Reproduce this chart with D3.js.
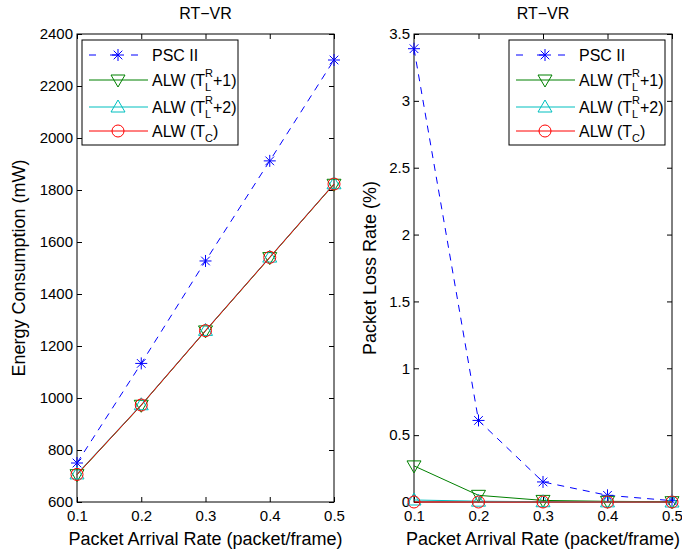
<!DOCTYPE html>
<html>
<head>
<meta charset="utf-8">
<script src="https://cdn.jsdelivr.net/npm/d3@7"></script>
<style>
  body { margin: 0; background: #fff; }
  text { font-family: "Liberation Sans", Arial, sans-serif; fill: #000; }
</style>
</head>
<body>
<div id="chart"></div>
<script>
// Data
const rates = [0.1, 0.2, 0.3, 0.4, 0.5];
const energyPSC = [750, 1133, 1527, 1912, 2300];
const energyT1 = [705, 972, 1258, 1540, 1822];
const energyT2 = [708, 974, 1260, 1542, 1824];
const energyTC = [706, 973, 1259, 1541, 1823];
const lossPSC = [3.39, 0.61, 0.15, 0.05, 0.01];
const lossT1 = [0.27, 0.05, 0.012, 0.005, 0.002];
const lossT2 = [0.015, 0.006, 0.002, 0.001, 0.0];
const lossTC = [0, 0, 0, 0, 0];
const energyTicks = [600, 800, 1000, 1200, 1400, 1600, 1800, 2000, 2200, 2400];
const lossTicks = [0, 0.5, 1, 1.5, 2, 2.5, 3, 3.5];
const xTicks = [0.1, 0.2, 0.3, 0.4, 0.5];

const W = 682, H = 552;
const svg = d3.select("#chart").append("svg").attr("width", W).attr("height", H);

const series = [
  { key: "psc", color: "#0000ff", dash: "7,6", marker: "star" },
  { key: "t1", color: "#008000", dash: null, marker: "tridown" },
  { key: "t2", color: "#00bfbf", dash: null, marker: "triup" },
  { key: "tc", color: "#ff0000", dash: null, marker: "circle" }
];

function drawMarker(g, type, x, y, color) {
  const s = 6;
  if (type === "star") {
    const d = s * 0.72;
    g.append("path")
      .attr("d", `M${x - s},${y}L${x + s},${y}M${x},${y - s}L${x},${y + s}M${x - d},${y - d}L${x + d},${y + d}M${x - d},${y + d}L${x + d},${y - d}`)
      .attr("stroke", color).attr("stroke-width", 1).attr("fill", "none");
  } else if (type === "tridown") {
    g.append("path")
      .attr("d", `M${x - 7},${y - 5}L${x + 7},${y - 5}L${x},${y + 7}Z`)
      .attr("stroke", color).attr("fill", "none");
  } else if (type === "triup") {
    g.append("path")
      .attr("d", `M${x - 7},${y + 5}L${x + 7},${y + 5}L${x},${y - 7}Z`)
      .attr("stroke", color).attr("fill", "none");
  } else {
    g.append("circle").attr("cx", x).attr("cy", y).attr("r", 6)
      .attr("stroke", color).attr("fill", "none");
  }
}

function panel(opts) {
  const { left, right, top, bottom, yDomain, yTickVals, yFmt, values, title, yLabel, labelX, legendX } = opts;
  const x = d3.scaleLinear().domain([0.1, 0.5]).range([left, right]);
  const y = d3.scaleLinear().domain(yDomain).range([bottom, top]);
  const g = svg.append("g");

  // axes with inward ticks, mirrored on top/right
  const ax = g.append("g").attr("transform", `translate(0,${bottom})`)
    .call(d3.axisBottom(x).tickValues(xTicks).tickSizeInner(-5).tickSizeOuter(0).tickPadding(8).tickFormat(d3.format(".1f")));
  const ay = g.append("g").attr("transform", `translate(${left},0)`)
    .call(d3.axisLeft(y).tickValues(yTickVals).tickSizeInner(-5).tickSizeOuter(0).tickPadding(4).tickFormat(yFmt));
  g.append("g").attr("transform", `translate(0,${top})`)
    .call(d3.axisTop(x).tickValues(xTicks).tickSizeInner(-5).tickSizeOuter(0).tickFormat(""));
  g.append("g").attr("transform", `translate(${right},0)`)
    .call(d3.axisRight(y).tickValues(yTickVals).tickSizeInner(-5).tickSizeOuter(0).tickFormat(""));
  g.selectAll(".domain").remove();
  g.selectAll(".tick line").attr("stroke", "#000");
  ax.selectAll("text").attr("font-size", 15).attr("dy", "0.71em");
  ay.selectAll("text").attr("font-size", 15);

  g.append("rect").attr("x", left).attr("y", top)
    .attr("width", right - left).attr("height", bottom - top)
    .attr("fill", "none").attr("stroke", "#000");

  // lines + markers
  const line = d3.line().x((d, i) => x(rates[i])).y(d => y(d));
  series.forEach((s, k) => {
    g.append("path").datum(values[k])
      .attr("d", line).attr("fill", "none")
      .attr("stroke", s.color).attr("stroke-width", 1)
      .attr("stroke-dasharray", s.dash);
    values[k].forEach((v, i) => drawMarker(g, s.marker, x(rates[i]), y(v), s.color));
  });

  // title and labels
  g.append("text").attr("x", (left + right) / 2).attr("y", 19)
    .attr("text-anchor", "middle").attr("font-size", 16).text(title);
  g.append("text").attr("x", (left + right) / 2).attr("y", 545)
    .attr("text-anchor", "middle").attr("font-size", 18).text("Packet Arrival Rate (packet/frame)");
  g.append("text").attr("transform", `translate(${labelX},${(top + bottom) / 2}) rotate(-90)`)
    .attr("text-anchor", "middle").attr("font-size", 18).text(yLabel);

  // legend
  const lx = legendX, ly = top + 6, lw = 156, lh = 105;
  const lg = g.append("g");
  lg.append("rect").attr("x", lx).attr("y", ly).attr("width", lw).attr("height", lh)
    .attr("fill", "#fff").attr("stroke", "#000");
  const rowsY = [ly + 15, ly + 40, ly + 67, ly + 91];
  series.forEach((s, k) => {
    const ry = rowsY[k];
    lg.append("line").attr("x1", lx + 7).attr("x2", lx + 66).attr("y1", ry).attr("y2", ry)
      .attr("stroke", s.color).attr("stroke-dasharray", s.dash ? "7,14" : null);
    drawMarker(lg, s.marker, lx + 36, ry, s.color);
    const t = lg.append("text").attr("x", lx + 70).attr("y", ry + 6).attr("font-size", 16);
    if (k === 0) {
      t.text("PSC II");
    } else if (k === 3) {
      t.append("tspan").text("ALW (T");
      t.append("tspan").attr("font-size", 11).attr("dy", 5).text("C");
      t.append("tspan").attr("dy", -5).text(")");
    } else {
      t.append("tspan").text("ALW (T");
      const px = lx + 70 + 53;
      lg.append("text").attr("x", px).attr("y", ry - 3).attr("font-size", 11).text("R");
      lg.append("text").attr("x", px).attr("y", ry + 11).attr("font-size", 11).text("L");
      lg.append("text").attr("x", px + 8).attr("y", ry + 6).attr("font-size", 16)
        .text(k === 1 ? "+1)" : "+2)");
    }
  });
}

panel({
  left: 77, right: 334, top: 34, bottom: 502,
  yDomain: [600, 2400], yTickVals: energyTicks, yFmt: d3.format("d"),
  values: [energyPSC, energyT1, energyT2, energyTC],
  title: "RT\u2212VR", yLabel: "Energy Consumption (mW)", labelX: 25, legendX: 82
});
panel({
  left: 414, right: 672, top: 34, bottom: 502,
  yDomain: [0, 3.5], yTickVals: lossTicks, yFmt: d => String(d),
  values: [lossPSC, lossT1, lossT2, lossTC],
  title: "RT\u2212VR", yLabel: "Packet Loss Rate (%)", labelX: 376, legendX: 509
});
</script>
</body>
</html>
